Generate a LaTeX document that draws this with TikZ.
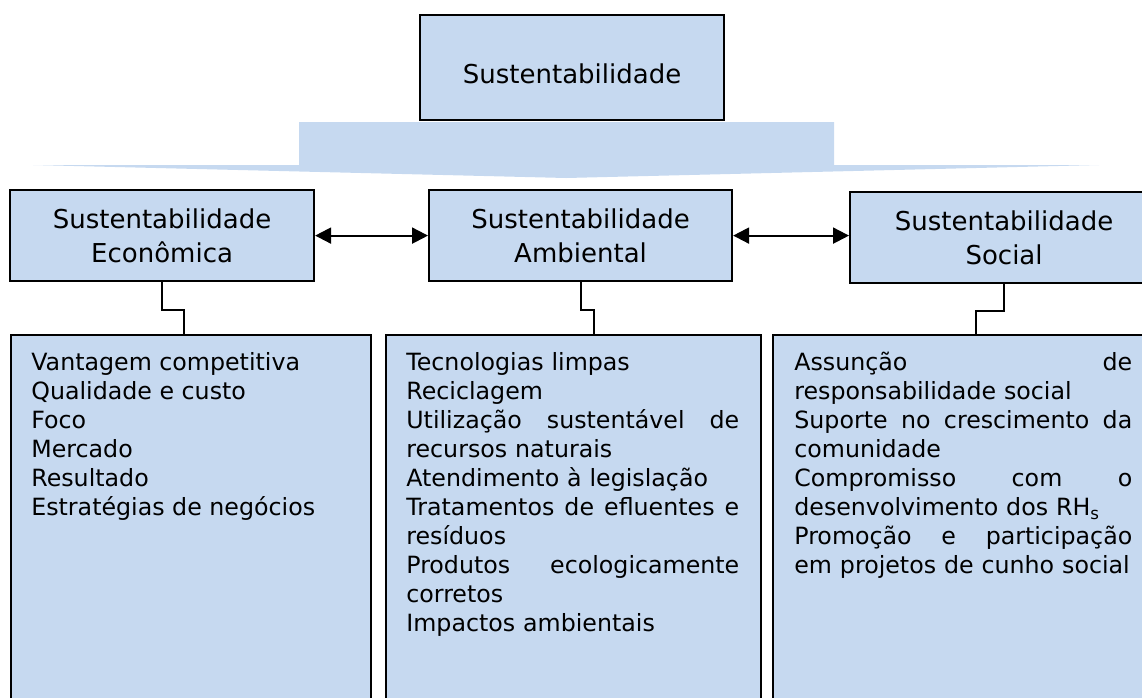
\documentclass[tikz,border=0pt]{standalone}
\usepackage{fontspec}
\setmainfont{DejaVu Sans}
\usetikzlibrary{arrows.meta,calc}
\definecolor{boxblue}{RGB}{198,217,240}
\newcommand\jline[2]{\leavevmode\hbox to #1{#2}}
\begin{document}
\begin{tikzpicture}[x=0.02cm,y=-0.02cm,
  box/.style={draw=black, line width=1.25pt, fill=boxblue, inner sep=0pt, anchor=north west},
  head/.style={box, font=\fontsize{14.8}{19.4}\selectfont, align=center},
  listtext/.style={anchor=north west, inner sep=0pt, font=\fontsize{13.5}{16.5}\selectfont, align=left},
  link/.style={line width=1.2pt},
  dbl/.style={line width=1.2pt, {Triangle[length=0.32cm,width=0.32cm]}-{Triangle[length=0.32cm,width=0.32cm]}}
]
\useasboundingbox (0,0) rectangle (1142,697);
\clip (0,0) rectangle (1142,697);

% top box
\node[head, minimum width=6.08cm, minimum height=2.1cm, text height=0.66cm] (top) at (419,14) {Sustentabilidade};

% block arrow
\fill[boxblue] (299,122) -- (834,122) -- (834,165) -- (1099,165) -- (566,178) -- (33,165) -- (299,165) -- cycle;

% header boxes
\node[head, minimum width=6.08cm, minimum height=1.82cm] (econ) at (9,189) {Sustentabilidade\\Econômica};
\node[head, minimum width=6.06cm, minimum height=1.82cm] (amb) at (428,189) {Sustentabilidade\\Ambiental};
\node[head, minimum width=6.16cm, minimum height=1.82cm] (soc) at (849,191) {Sustentabilidade\\Social};

\draw[dbl] (econ.east) -- (amb.west);
\draw[dbl] (amb.east) -- (amb.east -| soc.west);

% list boxes
\node[box, minimum width=7.2cm, minimum height=8cm] (econlist) at (10,334) {};
\node[box, minimum width=7.5cm, minimum height=8cm] (amblist) at (385,334) {};
\node[box, minimum width=8cm, minimum height=8cm] (soclist) at (772,334) {};

% connectors
\draw[link] (econ.south) -- ++(0,28) -| ($(econlist.north west)+(174,0)$);
\draw[link] (amb.south) -- ++(0,28) -| ($(amblist.north west)+(209,0)$);
\draw[link] (soc.south) -- ++(0,27) -| ($(soclist.north west)+(204,0)$);

% list texts
\node[listtext] (econtext) at (31,352) {Vantagem competitiva\\Qualidade e custo\\Foco\\Mercado\\Resultado\\Estratégias de negócios};
\node[listtext, text width=6.66cm] (ambtext) at (406,352) {Tecnologias limpas\\Reciclagem\\\jline{6.66cm}{Utilização\hfill sustentável\hfill de}\\recursos naturais\\Atendimento à legislação\\\jline{6.66cm}{Tratamentos\hfill de\hfill efluentes\hfill e}\\resíduos\\\jline{6.66cm}{Produtos\hfill ecologicamente}\\corretos\\Impactos ambientais};
\node[listtext, text width=6.76cm] (soctext) at (794,352) {\jline{6.76cm}{Assunção\hfill de}\\responsabilidade social\\\jline{6.76cm}{Suporte\hfill no\hfill crescimento\hfill da}\\comunidade\\\jline{6.76cm}{Compromisso\hfill com\hfill o}\\desenvolvimento dos RH\textsubscript{s}\\\jline{6.76cm}{Promoção\hfill e\hfill participação}\\em projetos de cunho social};
\end{tikzpicture}
\end{document}
